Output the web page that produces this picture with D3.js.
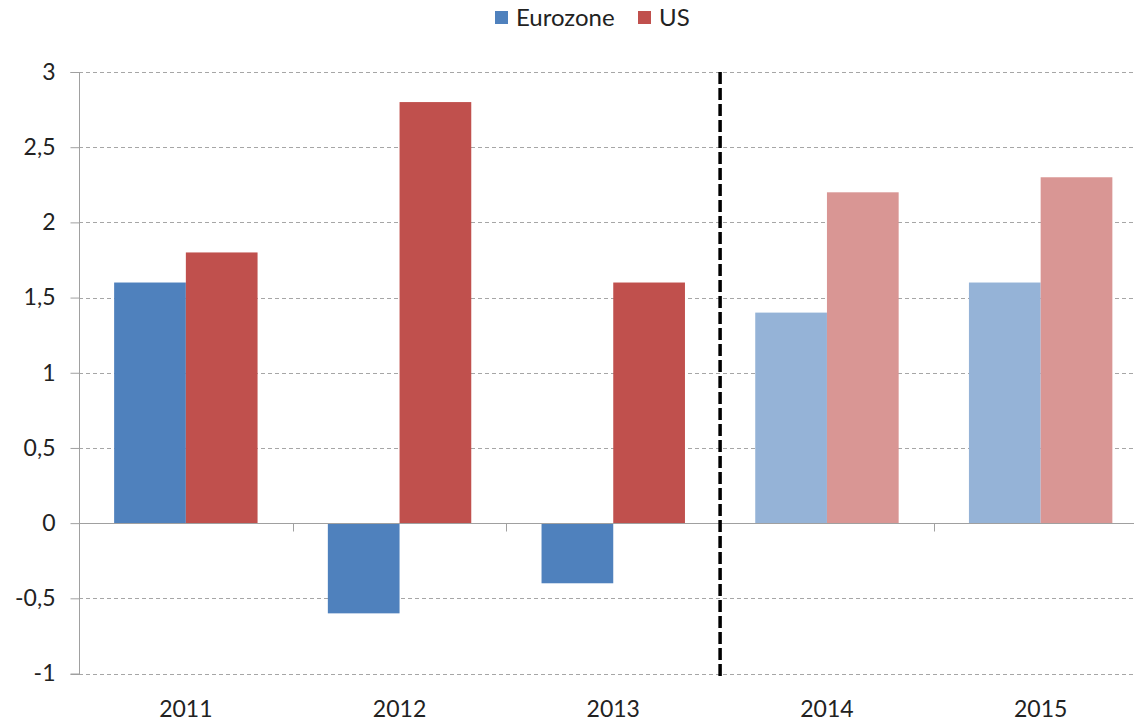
<!DOCTYPE html>
<html><head><meta charset="utf-8">
<script src="https://cdn.jsdelivr.net/npm/d3@7"></script>
<style>body{margin:0;background:#fff}svg{display:block}</style>
</head><body>
<svg id="c" width="1134" height="721"></svg>
<script>
const categories = ["2011","2012","2013","2014","2015"];
const eurozone = [1.6,-0.6,-0.4,1.4,1.6];
const us = [1.8,2.8,1.6,2.2,2.3];
const forecast = [false,false,false,true,true];
const yTicks = [-1,-0.5,0,0.5,1,1.5,2,2.5,3];
const seriesNames = ["Eurozone","US"];

const colors = {Eurozone:"#4F81BD", US:"#C0504D"};
const colorsLight = {Eurozone:"#95B3D7", US:"#D99694"};
const font = "Lato, 'Open Sans', sans-serif";

const svg = d3.select("#c");
const L = 79, R = 79 + 5*213.7, T = 72, B = 673.5;
const x = d3.scaleBand().domain(categories).range([L,R]).paddingInner(0).paddingOuter(0);
const xs = d3.scaleBand().domain(seriesNames).range([0,x.bandwidth()]).paddingInner(0).paddingOuter(0.49);
const y = d3.scaleLinear().domain([-1,3]).range([B,T]);

// gridlines
svg.append("g").selectAll("line").data(yTicks.filter(d=>d!==0)).join("line")
  .attr("x1",L).attr("x2",R).attr("y1",d=>Math.round(y(d))+0.5).attr("y2",d=>Math.round(y(d))+0.5)
  .attr("stroke","#a6a6a6").attr("stroke-width",1).attr("stroke-dasharray","4,3");

// y axis
const yAxis = d3.axisLeft(y).tickValues(yTicks).tickSize(9).tickPadding(15)
  .tickFormat(d=>String(d).replace(".",","));
const ga = svg.append("g").attr("transform",`translate(${L+0.5},0)`).call(yAxis);
ga.select(".domain").attr("stroke","#a0a0a0").attr("d",`M-9,${Math.round(y(3))+0.5}H0V${Math.round(y(-1))+0.5}H-9`);
ga.selectAll(".tick line").attr("stroke","#a0a0a0");
ga.selectAll(".tick text").attr("font-family",font).attr("font-size",23).attr("fill","#222");

// bars
const data = [];
categories.forEach((c,i)=>{
  data.push({c, s:"Eurozone", v:eurozone[i], f:forecast[i]});
  data.push({c, s:"US", v:us[i], f:forecast[i]});
});
svg.append("g").selectAll("rect").data(data).join("rect")
  .attr("x",d=>x(d.c)+xs(d.s)).attr("width",xs.bandwidth())
  .attr("y",d=>y(Math.max(0,d.v))).attr("height",d=>Math.abs(y(d.v)-y(0)))
  .attr("fill",d=>d.f?colorsLight[d.s]:colors[d.s]);

// zero axis + category ticks
const y0 = Math.round(y(0))+0.5;
svg.append("line").attr("x1",L).attr("x2",R).attr("y1",y0).attr("y2",y0).attr("stroke","#a0a0a0");
svg.append("g").selectAll("line").data(categories.slice(1)).join("line")
  .attr("x1",d=>Math.round(x(d))+0.5).attr("x2",d=>Math.round(x(d))+0.5)
  .attr("y1",y0).attr("y2",y0+8).attr("stroke","#a0a0a0");

// category labels
svg.append("g").selectAll("text").data(categories).join("text")
  .attr("x",d=>x(d)+x.bandwidth()/2).attr("y",717).attr("text-anchor","middle")
  .attr("font-family",font).attr("font-size",23).attr("fill","#222").text(d=>d);

// forecast divider
const xd = x("2014");
svg.append("line").attr("x1",xd).attr("x2",xd).attr("y1",T).attr("y2",B+3)
  .attr("stroke","#000").attr("stroke-width",3.5).attr("stroke-dasharray","12,4");

// legend
const legend = [{s:"Eurozone",x:495},{s:"US",x:638}];
const lg = svg.append("g");
lg.selectAll("rect").data(legend).join("rect")
  .attr("x",d=>d.x).attr("y",11).attr("width",13).attr("height",13).attr("fill",d=>colors[d.s]);
lg.selectAll("text").data(legend).join("text")
  .attr("x",d=>d.x+21).attr("y",26).attr("font-family",font).attr("font-size",24).attr("fill","#222").text(d=>d.s);
</script>
</body></html>
